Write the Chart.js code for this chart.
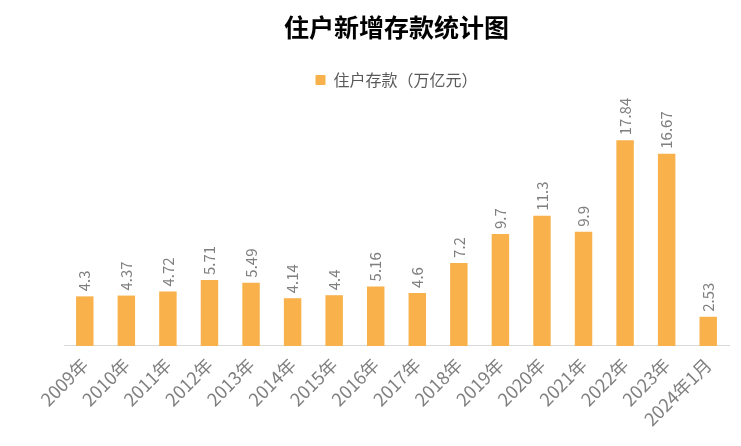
<!DOCTYPE html>
<html>
<head>
<meta charset="utf-8">
<script src="https://cdn.jsdelivr.net/npm/chart.js@4"></script>
<style>
  body { margin: 0; background: #fff; }
  #wrap { width: 741px; height: 446px; }
</style>
</head>
<body>
<div id="wrap"><canvas id="barchart"></canvas></div>
<script>
var years = ["2009年", "2010年", "2011年", "2012年", "2013年", "2014年", "2015年", "2016年",
  "2017年", "2018年", "2019年", "2020年", "2021年", "2022年", "2023年", "2024年1月"];
var deposits = [4.3, 4.37, 4.72, 5.71, 5.49, 4.14, 4.4, 5.16, 4.6, 7.2, 9.7, 11.3, 9.9, 17.84, 16.67, 2.53];
var seriesName = "住户存款（万亿元）";

// value labels drawn vertically above each bar
var valueLabels = {
  id: "valueLabels",
  afterDatasetsDraw: function (chart) {
    var ctx = chart.ctx;
    var meta = chart.getDatasetMeta(0);
    ctx.save();
    ctx.fillStyle = "#7f7f7f";
    ctx.font = "15px 'Noto Sans CJK SC', 'Noto Sans'";
    ctx.textAlign = "left";
    ctx.textBaseline = "middle";
    meta.data.forEach(function (bar, i) {
      ctx.save();
      ctx.translate(bar.x, bar.y - 5);
      ctx.rotate(-Math.PI / 2);
      ctx.fillText(String(deposits[i]), 0, 0);
      ctx.restore();
    });
    ctx.restore();
  }
};

var chart = new Chart(document.getElementById("barchart"), {
  type: "bar",
  data: {
    labels: years,
    datasets: [{
      label: seriesName,
      data: deposits,
      backgroundColor: "#F9B24B",
      categoryPercentage: 1,
      barPercentage: 0.42
    }]
  },
  options: {
    responsive: true,
    maintainAspectRatio: false,
    animation: false,
    layout: { padding: { left: 64, right: 12, top: 0, bottom: 8 } },
    scales: {
      x: {
        grid: { display: false, drawTicks: false },
        border: { color: "#d9d9d9" },
        ticks: {
          color: "#7f7f7f",
          font: { size: 18, family: "'Noto Sans CJK SC', 'Noto Sans'" },
          maxRotation: 45, minRotation: 45,
          padding: 8
        }
      },
      y: {
        display: false,
        min: 0,
        max: 21.5
      }
    },
    plugins: {
      title: {
        display: true,
        text: "住户新增存款统计图",
        color: "#000",
        font: { size: 25, weight: "bold", family: "'Noto Sans CJK SC'" },
        padding: { top: 12, bottom: 20 }
      },
      legend: {
        display: true,
        labels: {
          color: "#595959",
          boxWidth: 10, boxHeight: 10,
          font: { size: 16, family: "'Noto Sans CJK SC'" }
        }
      },
      tooltip: { enabled: false }
    }
  },
  plugins: [valueLabels]
});
</script>
</body>
</html>
